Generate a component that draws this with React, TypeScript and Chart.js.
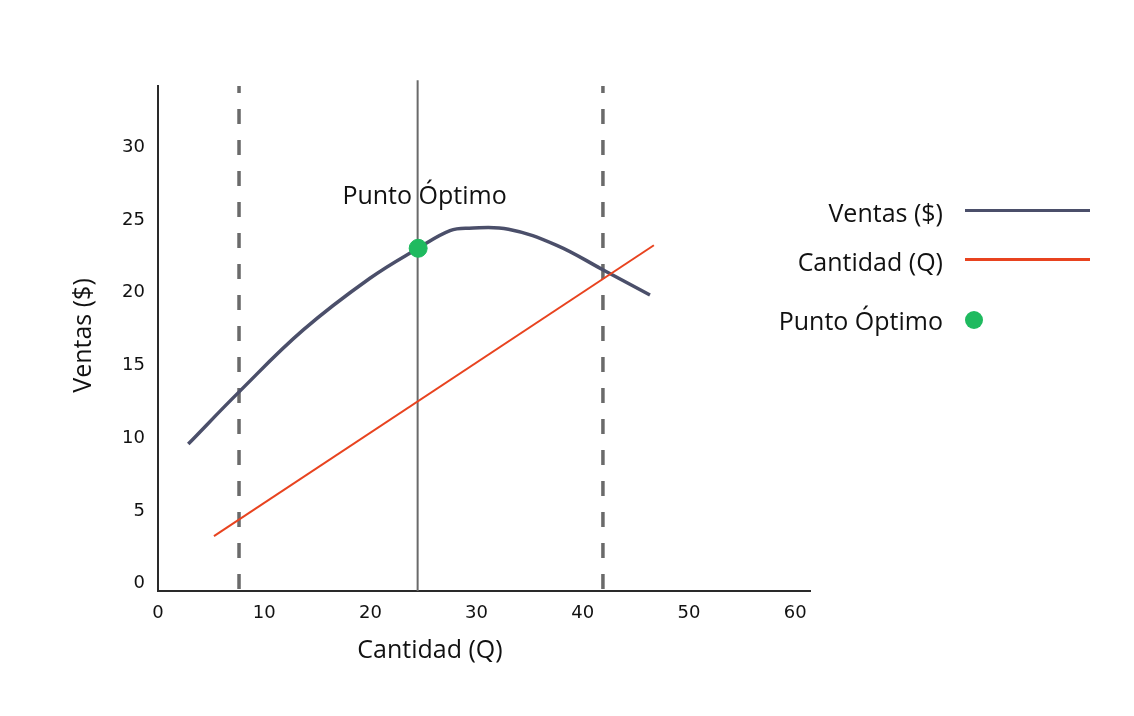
import React, { useEffect, useRef } from "react";
import { Chart, registerables } from "chart.js";

Chart.register(...registerables);

// ---- Data ----
const ventasQ = [2.85, 7.66, 13.68, 19.96, 24.48, 27.5, 29.3, 33.0, 37.5, 41.93, 46.33];
const ventasV = [9.6, 13.2, 17.44, 20.99, 23.04, 24.26, 24.43, 24.36, 23.27, 21.56, 19.84];
const cantidadQ = [5.27, 46.7];
const cantidadV = [3.27, 23.26];
const optimoQ = [24.5];
const optimoV = [23.05];
const limitesQ = [7.63, 41.9];
const optimoLineaQ = [24.45];
const xTicks = [0, 10, 20, 30, 40, 50, 60];
const yTicks = [0, 5, 10, 15, 20, 25, 30];
const xRange = [0, 61.4];
const yRange = [-0.5, 34.2];
const solidLineTop = 34.6;
const annotationText = "Punto Óptimo";
const annotationPos = [25.1, 26.6];
const xTitle = "Cantidad (Q)";
const yTitle = "Ventas ($)";
const legendLabels = ["Ventas ($)", "Cantidad (Q)", "Punto Óptimo"];

const COL_VENTAS = "#4b4f6a";
const COL_CANT = "#e8431f";
const COL_OPT = "#1fba5f";
const COL_VLINE = "#6a6a6a";
const FONT = "'Open Sans', 'Noto Sans', sans-serif";
const TICK_FONT = "'DejaVu Sans', sans-serif";

const textPlugin = {
  id: "textPlugin",
  afterDraw(chart: any) {
    const { ctx, chartArea, scales } = chart;
    ctx.save();
    ctx.fillStyle = "#111";
    ctx.font = `25px ${FONT}`;
    ctx.textAlign = "center";
    ctx.textBaseline = "middle";
    // annotation
    ctx.fillText(
      annotationText,
      scales.x.getPixelForValue(annotationPos[0]),
      scales.y.getPixelForValue(annotationPos[1])
    );
    // x title
    ctx.fillText(xTitle, chartArea.left + 272, chartArea.bottom + 60);
    // y title
    ctx.translate(76, (chartArea.top + chartArea.bottom) / 2 - 3);
    ctx.rotate(-Math.PI / 2);
    ctx.fillText(yTitle, 0, 0);
    ctx.restore();
  },
};

function ChartView() {
  const ref = useRef<HTMLCanvasElement>(null);
  useEffect(() => {
    if (!ref.current) return;
    const vline = (q: number, top: number, dashed: boolean) => ({
      type: "line" as const,
      data: [
        { x: q, y: top },
        { x: q, y: yRange[0] },
      ],
      borderColor: COL_VLINE,
      borderWidth: dashed ? 3.5 : 2,
      borderDash: dashed ? [15, 16] : [],
      borderDashOffset: dashed ? 8 : 0,
      pointRadius: 0,
      clip: false as any,
      order: 5,
    });
    const chart = new Chart(ref.current, {
      type: "line",
      data: {
        datasets: [
          {
            type: "scatter",
            data: optimoQ.map((x, i) => ({ x, y: optimoV[i] })),
            backgroundColor: COL_OPT,
            borderColor: COL_OPT,
            pointRadius: 9,
            pointHoverRadius: 9,
            order: 0,
          } as any,
          {
            type: "line",
            data: ventasQ.map((x, i) => ({ x, y: ventasV[i] })),
            borderColor: COL_VENTAS,
            borderWidth: 3.5,
            pointRadius: 0,
            tension: 0.4,
            order: 2,
          },
          {
            type: "line",
            data: cantidadQ.map((x, i) => ({ x, y: cantidadV[i] })),
            borderColor: COL_CANT,
            borderWidth: 2,
            pointRadius: 0,
            order: 1,
          },
          ...limitesQ.map((q) => vline(q, yRange[1], true)),
          ...optimoLineaQ.map((q) => vline(q, solidLineTop, false)),
        ] as any,
      },
      options: {
        animation: false,
        responsive: false,
        maintainAspectRatio: false,
        events: [],
        layout: { padding: { top: 78, right: 316, bottom: 0, left: 0 } },
        plugins: { legend: { display: false }, tooltip: { enabled: false } },
        scales: {
          x: {
            type: "linear",
            min: xRange[0],
            max: xRange[1],
            grid: { display: false, drawTicks: false },
            border: { display: true, color: "#2a2a2a", width: 2 },
            ticks: { padding: 12, color: "#111", font: { family: TICK_FONT, size: 18 } },
            afterBuildTicks: (s: any) => {
              s.ticks = xTicks.map((v) => ({ value: v }));
            },
            afterFit: (s: any) => {
              s.height = 117;
            },
          },
          y: {
            type: "linear",
            min: yRange[0],
            max: yRange[1],
            grid: { display: false, drawTicks: false },
            border: { display: true, color: "#2a2a2a", width: 2 },
            ticks: { padding: 13, color: "#111", font: { family: TICK_FONT, size: 18 } },
            afterBuildTicks: (s: any) => {
              s.ticks = yTicks.map((v) => ({ value: v }));
            },
            afterFit: (s: any) => {
              s.width = 150;
            },
          },
        },
      },
      plugins: [textPlugin],
    });
    return () => chart.destroy();
  }, []);
  return <canvas ref={ref} width={1118} height={700} style={{ display: "block" }} />;
}

export default function App() {
  const textStyle = (top: number): React.CSSProperties => ({
    position: "absolute",
    right: 1118 - 935,
    top: top - 17,
    lineHeight: "34px",
    fontSize: 25,
    fontFamily: FONT,
    color: "#111",
    whiteSpace: "nowrap",
  });
  const lineStyle = (top: number, color: string): React.CSSProperties => ({
    position: "absolute",
    left: 957,
    width: 125,
    top: top - 1.5,
    height: 3,
    background: color,
  });
  return (
    <div style={{ position: "relative", width: 1118, height: 700 }}>
      <ChartView />
      <div style={textStyle(204)}>{legendLabels[0]}</div>
      <div style={lineStyle(202, COL_VENTAS)} />
      <div style={textStyle(253)}>{legendLabels[1]}</div>
      <div style={lineStyle(251, COL_CANT)} />
      <div style={textStyle(312)}>{legendLabels[2]}</div>
      <div
        style={{
          position: "absolute",
          left: 957,
          top: 303,
          width: 18,
          height: 18,
          borderRadius: "50%",
          background: COL_OPT,
        }}
      />
    </div>
  );
}
